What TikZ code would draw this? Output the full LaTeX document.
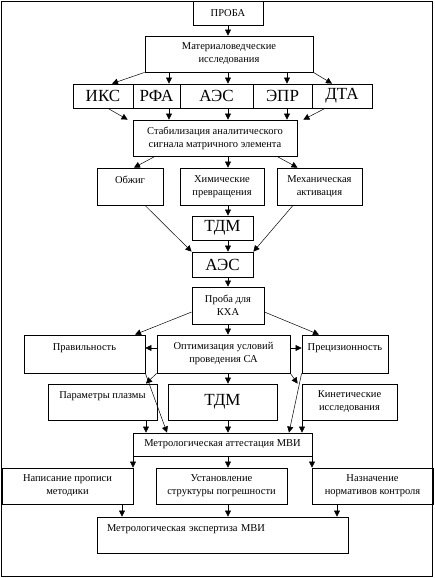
\documentclass[tikz,border=0pt]{standalone}
\usepackage{fontspec}
\setmainfont{Liberation Serif}
\usetikzlibrary{arrows.meta}
\tikzset{
  box/.style={draw, line width=0.8pt, inner sep=1pt, align=center, font=\fontsize{10.5}{13}\selectfont},
  big/.style={box, font=\fontsize{17}{20}\selectfont},
  con/.style={->, line width=0.5pt}
}
\begin{document}
\begin{tikzpicture}[x=1pt, y=-1pt, >={Triangle[length=6pt,width=6pt]}]
\useasboundingbox (0,0) rectangle (434,578);
\draw[line width=1.2pt] (1.5,1.5) rectangle (432.5,576.5);

\node[box, minimum width=70pt, minimum height=23.5pt] (proba) at (228,13.25) {ПРОБА};
\node[box, minimum width=168pt, minimum height=36pt] (mat) at (229,54) {Материаловедческие\\исследования};
\foreach \n/\t/\x/\w in {iks/ИКС/103/60, rfa/РФА/156.5/47, aes/АЭС/216.5/73, epr/ЭПР/282.5/59, dta/ДТА/342/60}
{
    \node[big, minimum width=\w pt, minimum height=24pt] (\n) at (\x,96) {\t};
}
\node[box, minimum width=164pt, minimum height=36pt] (stab) at (215,138) {Стабилизация аналитического\\сигнала матричного элемента};
\node[box, minimum width=66pt, minimum height=37pt] (obzhig) at (130,186.5) {Обжиг\\\mbox{}};
\node[box, minimum width=84pt, minimum height=37pt] (him) at (222,186.5) {Химические\\превращения};
\node[box, minimum width=85pt, minimum height=37pt] (meh) at (319.5,186.5) {Механическая\\активация};
\node[big, minimum width=61pt, minimum height=24pt] (tdma) at (222.5,228) {ТДМ};
\node[big, minimum width=61pt, minimum height=25pt] (aesb) at (222.5,264.5) {АЭС};
\node[box, minimum width=72pt, minimum height=37pt] (kha) at (228,305.5) {Проба для\\КХА};
\node[box, minimum width=121pt, minimum height=38pt] (prav) at (84.5,354) {Правильность\\\mbox{}};
\node[box, minimum width=133pt, minimum height=38pt] (opt) at (223.5,354) {Оптимизация условий\\проведения СА};
\node[box, minimum width=86pt, minimum height=38pt] (prec) at (345,354) {Прецизионность\\\mbox{}};
\node[box, minimum width=109pt, minimum height=36pt] (param) at (102.5,402) {Параметры плазмы\\\mbox{}};
\node[big, minimum width=109pt, minimum height=36pt] (tdmb) at (222.5,402) {ТДМ};
\node[box, minimum width=95pt, minimum height=36pt] (kin) at (349.5,402) {Кинетические\\исследования};
\node[box, minimum width=179pt, minimum height=23pt] (att) at (222.5,444.5) {Метрологическая аттестация МВИ};
\node[box, minimum width=131pt, minimum height=36pt] (napis) at (67.5,486) {Написание прописи\\методики};
\node[box, minimum width=131pt, minimum height=36pt] (ust) at (221.5,486) {Установление\\структуры погрешности};
\node[box, minimum width=121pt, minimum height=36pt] (naz) at (372.5,486) {Назначение\\нормативов контроля};
\node[box, minimum width=251pt, minimum height=36pt, inner xsep=10pt, text width=231pt, align=left] (eksp) at (222.5,535) {Метрологическая экспертиза МВИ\\\mbox{}};

\foreach \a/\b/\x in {proba/mat/228, mat/rfa/169, mat/aes/228, mat/epr/287, rfa/stab/169, aes/stab/228, epr/stab/287,
    stab/him/228, him/tdma/228, tdma/aesb/228, aesb/kha/228, kha/opt/228, opt/tdmb/228,
    param/att/146, tdmb/att/228, kin/att/302, att/napis/133, att/ust/228, att/naz/312,
    napis/eksp/122, ust/eksp/228, naz/eksp/337}
{
    \draw[con] (\a.south -| \x,0) -- (\b.north -| \x,0);
}
\draw[con] (mat.south west) -- ([xshift=9pt]iks.north);
\draw[con] (mat.south east) -- ([xshift=-10pt]dta.north);
\draw[con] ([xshift=5pt]iks.south) -- ([xshift=-5pt]stab.north west);
\draw[con] ([xshift=-17pt]dta.south) -- ([xshift=6pt]stab.north east);
\draw[con] ([xshift=-60pt]stab.south) -- ([xshift=4pt]obzhig.north);
\draw[con] ([xshift=62pt]stab.south) -- ([xshift=-22pt]meh.north);
\draw[con] ([xshift=15pt]obzhig.south) -- (aesb.north west);
\draw[con] ([xshift=-26.5pt]meh.south) -- (aesb.north east);
\draw[con] ([yshift=-6.5pt]kha.west) -- ([xshift=50.5pt]prav.north);
\draw[con] ([yshift=-6.5pt]kha.east) -- ([xshift=-26pt]prec.north);
\draw[con] ([yshift=6pt]opt.west) -- ([yshift=6pt]prav.east);
\draw[con] ([yshift=6pt]opt.east) -- ([yshift=6pt]prec.west);
\draw[con] (opt.south west) -- ([xshift=43.5pt]param.north);
\draw[con] (prav.south east) -- ([xshift=-55.5pt]att.north);
\draw[con] (opt.south east) -- ([xshift=-4pt]kin.north west);
\draw[con] (prec.south west) -- ([xshift=66.5pt]att.north);
\end{tikzpicture}
\end{document}
